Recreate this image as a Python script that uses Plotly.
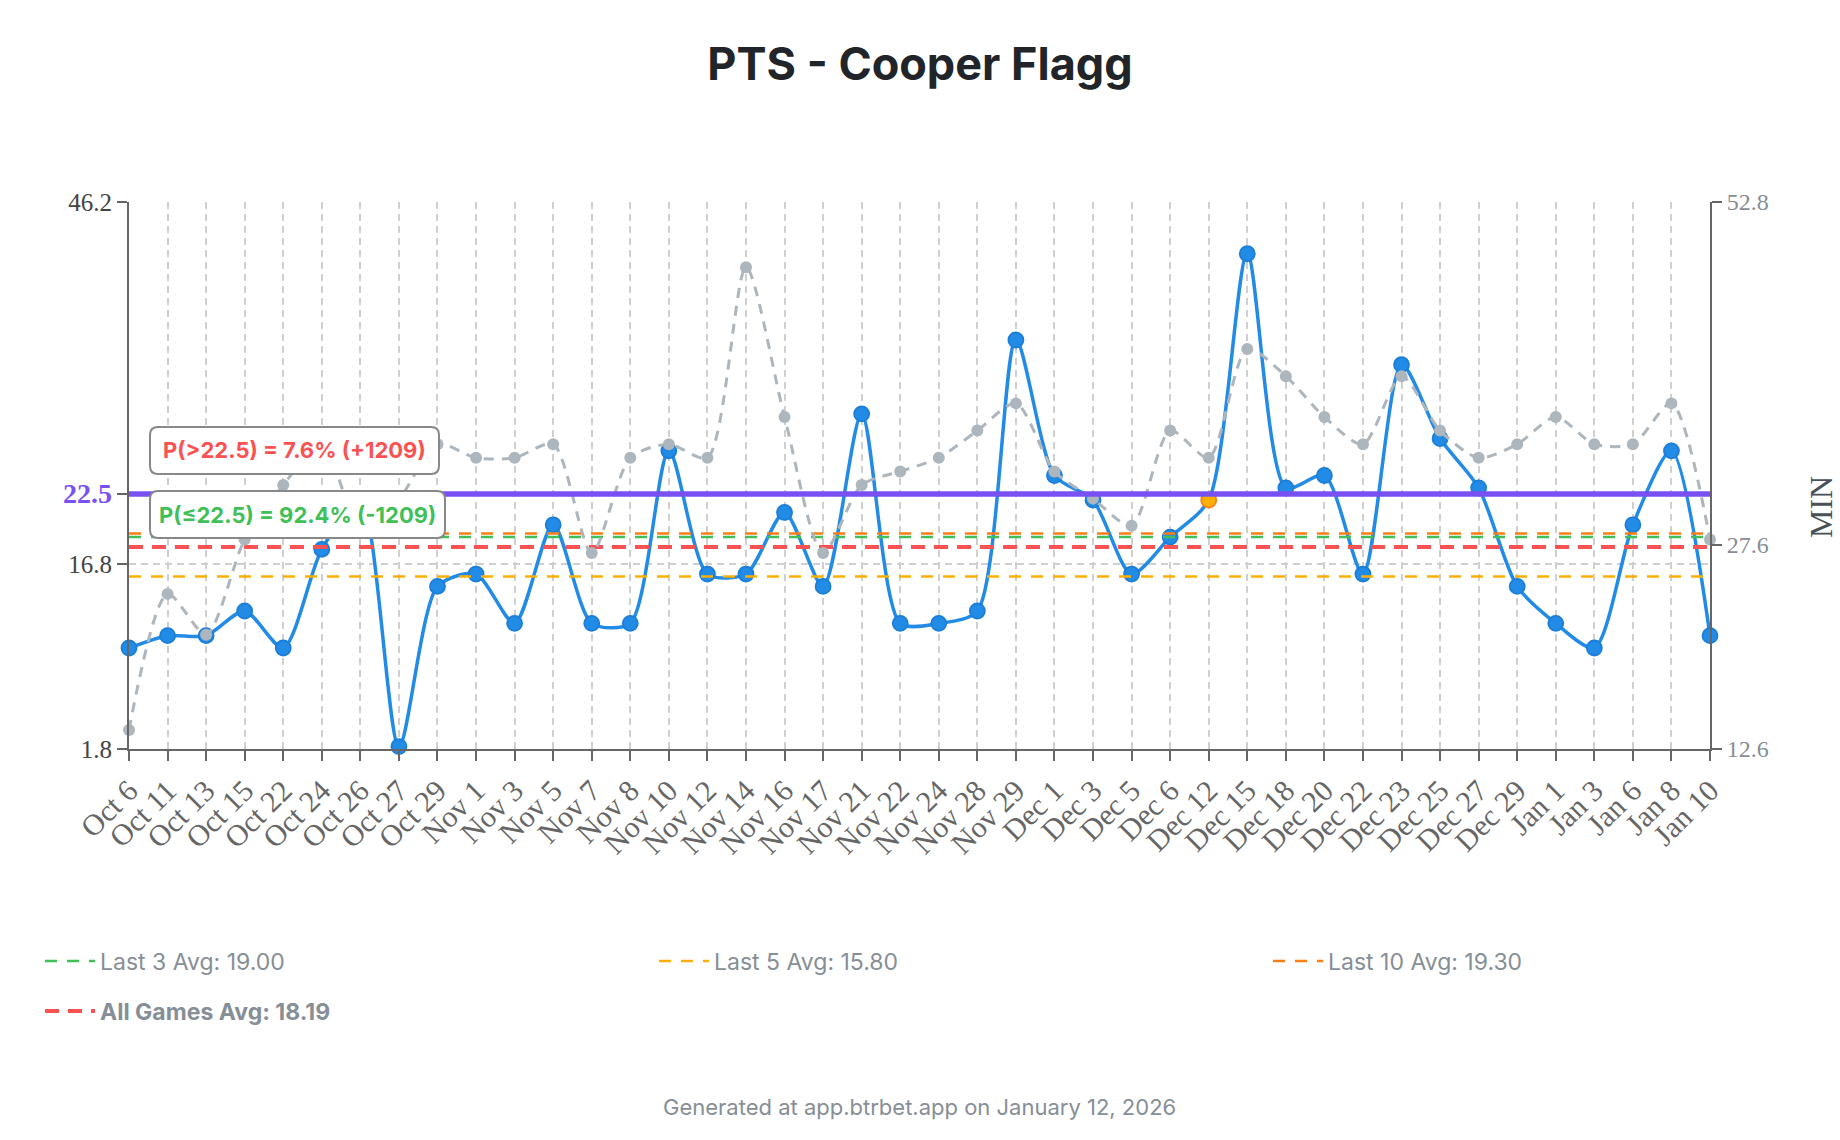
import plotly.graph_objects as go

# ---------------- data ----------------
games = ["Oct 6", "Oct 11", "Oct 13", "Oct 15", "Oct 22", "Oct 24", "Oct 26", "Oct 27",
         "Oct 29", "Nov 1", "Nov 3", "Nov 5", "Nov 7", "Nov 8", "Nov 10", "Nov 12",
         "Nov 14", "Nov 16", "Nov 17", "Nov 21", "Nov 22", "Nov 24", "Nov 28", "Nov 29",
         "Dec 1", "Dec 3", "Dec 5", "Dec 6", "Dec 12", "Dec 15", "Dec 18", "Dec 20",
         "Dec 22", "Dec 23", "Dec 25", "Dec 27", "Dec 29", "Jan 1", "Jan 3", "Jan 6",
         "Jan 8", "Jan 10"]

pts = [10, 11, 11, 13, 10, 18, 22, 2, 15, 16, 12, 20, 12, 12, 26, 16, 16, 21, 15, 29,
       12, 12, 13, 35, 24, 22, 16, 19, 22, 42, 23, 24, 16, 33, 27, 23, 15, 12, 10, 20,
       26, 11]

minutes = [14, 24, 21, 28, 32, 35, 29, 31, 35, 34, 34, 35, 27, 34, 35, 34, 48, 37, 27, 32,
           33, 34, 36, 38, 33, 31, 29, 36, 34, 42, 40, 37, 35, 40, 36, 34, 35, 37, 35, 35,
           38, 28]

highlight_games = ["Dec 12"]

prop_line = 22.5
avg_names = ["Last 3 Avg: 19.00", "Last 5 Avg: 15.80", "Last 10 Avg: 19.30", "All Games Avg: 18.19"]
avg_values = [19.00, 15.80, 19.30, 18.19]
avg_colors = ["#40c057", "#fab005", "#fd7e14", "#fa5252"]

prob_over_text = "P(>22.5) = 7.6% (+1209)"
prob_under_text = "P(≤22.5) = 92.4% (-1209)"

pts_range = [1.8, 46.2]
pts_ticks = [1.8, 16.8, 22.5, 46.2]
min_range = [12.6, 52.8]
min_ticks = [12.6, 27.6, 52.8]

# ---------------- figure ----------------
W, H = 1840, 1140
ML, MR, MT, MB = 129, 130, 202, 391
PW = W - ML - MR
PH = H - MT - MB

fill_cols = ["#fab005" if g in highlight_games else "#228be6" for g in games]
edge_cols = ["#fd7e14" if g in highlight_games else "#1c7ed6" for g in games]

fig = go.Figure()

fig.add_trace(go.Scatter(
    x=games, y=pts, mode="lines+markers", yaxis="y", showlegend=False,
    line=dict(color="#228be6", width=3.5, shape="spline", smoothing=0.75),
    marker=dict(size=15, color=fill_cols, line=dict(color=edge_cols, width=1.8)),
    cliponaxis=False, hoverinfo="skip"))

fig.add_trace(go.Scatter(
    x=games, y=minutes, mode="lines+markers", yaxis="y2", showlegend=False,
    line=dict(color="#adb5bd", width=3, dash="10px,8px", shape="spline", smoothing=0.75),
    marker=dict(size=12, color="#adb5bd"),
    cliponaxis=False, hoverinfo="skip"))

legend_ids = ["legend", "legend3", "legend4", "legend2"]
for i, (nm, v, c) in enumerate(zip(avg_names, avg_values, avg_colors)):
    last = i == 3
    fig.add_trace(go.Scatter(
        x=[games[0], games[-1]], y=[v, v], mode="lines", yaxis="y",
        name=("<b>" + nm + "</b>") if last else nm,
        legend=legend_ids[i],
        line=dict(color=c, width=4 if last else 2.5, dash="14px,9px" if last else "12px,10px"),
        hoverinfo="skip"))

fig.add_shape(type="line", xref="paper", x0=0, x1=1, yref="y", y0=prop_line, y1=prop_line,
              line=dict(color="#7950f2", width=5.5), layer="above")


def rounded_box(w, h, r):
    w2, h2 = w / 2, h / 2
    return (f"M {-w2 + r},{-h2} L {w2 - r},{-h2} Q {w2},{-h2} {w2},{-h2 + r} "
            f"L {w2},{h2 - r} Q {w2},{h2} {w2 - r},{h2} L {-w2 + r},{h2} "
            f"Q {-w2},{h2} {-w2},{h2 - r} L {-w2},{-h2 + r} Q {-w2},{-h2} {-w2 + r},{-h2} Z")


boxes = [  # (center x px, center y data, width px, height px, text, colour)
    (294.5, 26.03, 289, 47, prob_over_text, "#fa5252"),
    (297.5, 20.83, 295, 47, prob_under_text, "#40c057"),
]
for cx, cy, bw, bh, txt, col in boxes:
    fig.add_shape(type="path", xref="paper", yref="y", xsizemode="pixel", ysizemode="pixel",
                  xanchor=(cx - ML) / PW, yanchor=cy, path=rounded_box(bw, bh, 8),
                  fillcolor="white", line=dict(color="#888", width=2), layer="above")
    fig.add_annotation(x=(cx - ML) / PW, y=cy, xref="paper", yref="y", text=txt,
                       showarrow=False, xanchor="center", yanchor="middle",
                       font=dict(family="Inter", size=22, color=col, weight=700))

pts_text = [("<b><span style='color:#7950f2;font-size:28px'>%g</span></b>" % t) if t == prop_line else ("%g" % t)
            for t in pts_ticks]

serif = "Liberation Serif, Times New Roman, serif"
leg_font = dict(family="Inter", size=23, color="#868e96")
leg_common = dict(orientation="h", xref="container", yref="container", xanchor="left",
                  yanchor="middle", itemwidth=50, font=leg_font, bgcolor="rgba(0,0,0,0)")

fig.update_layout(
    width=W, height=H,
    margin=dict(l=ML, r=MR, t=MT, b=MB),
    paper_bgcolor="white", plot_bgcolor="white",
    title=dict(text="PTS - Cooper Flagg", x=0.5, xref="container", xanchor="center",
               y=1 - 64 / H, yref="container", yanchor="middle",
               font=dict(family="Inter", size=45, color="#212529", weight=700)),
    xaxis=dict(type="category", range=[0, len(games) - 1],
               showgrid=True, gridcolor="#cfcfcf", gridwidth=1.5, griddash="7px,5px",
               showline=True, linecolor="#666", linewidth=2,
               ticks="outside", ticklen=10, tickwidth=2, tickcolor="#666",
               tickangle=-45, tickfont=dict(family=serif, size=30, color="#666"),
               zeroline=False),
    yaxis=dict(range=pts_range, tickvals=pts_ticks, ticktext=pts_text,
               showgrid=True, gridcolor="#cfcfcf", gridwidth=1.5, griddash="7px,5px",
               showline=True, linecolor="#666", linewidth=2,
               ticks="outside", ticklen=10, tickwidth=2, tickcolor="#666",
               tickfont=dict(family=serif, size=25, color="#444"), zeroline=False),
    yaxis2=dict(range=min_range, tickvals=min_ticks, overlaying="y", side="right",
                showgrid=False, showline=True, linecolor="#666", linewidth=2,
                ticks="outside", ticklen=10, tickwidth=2, tickcolor="#666",
                tickfont=dict(family=serif, size=24, color="#868e96"), zeroline=False),
    legend=dict(x=40 / W, y=1 - 961 / H, **leg_common),
    legend3=dict(x=654 / W, y=1 - 961 / H, **leg_common),
    legend4=dict(x=1268 / W, y=1 - 961 / H, **leg_common),
    legend2=dict(x=40 / W, y=1 - 1011 / H, **leg_common),
)

fig.add_annotation(x=(1821 - ML) / PW, y=1 - (507 - MT) / PH, xref="paper", yref="paper",
                   text="MIN", textangle=-90, showarrow=False, xanchor="center", yanchor="middle",
                   font=dict(family=serif, size=32, color="#495057"))

fig.add_annotation(x=0.5, y=1 - (1107 - MT) / PH, xref="paper", yref="paper",
                   text="Generated at app.btrbet.app on January 12, 2026", showarrow=False,
                   xanchor="center", yanchor="middle",
                   font=dict(family="Inter", size=22, color="#868e96"))

fig.write_html("out.html")
